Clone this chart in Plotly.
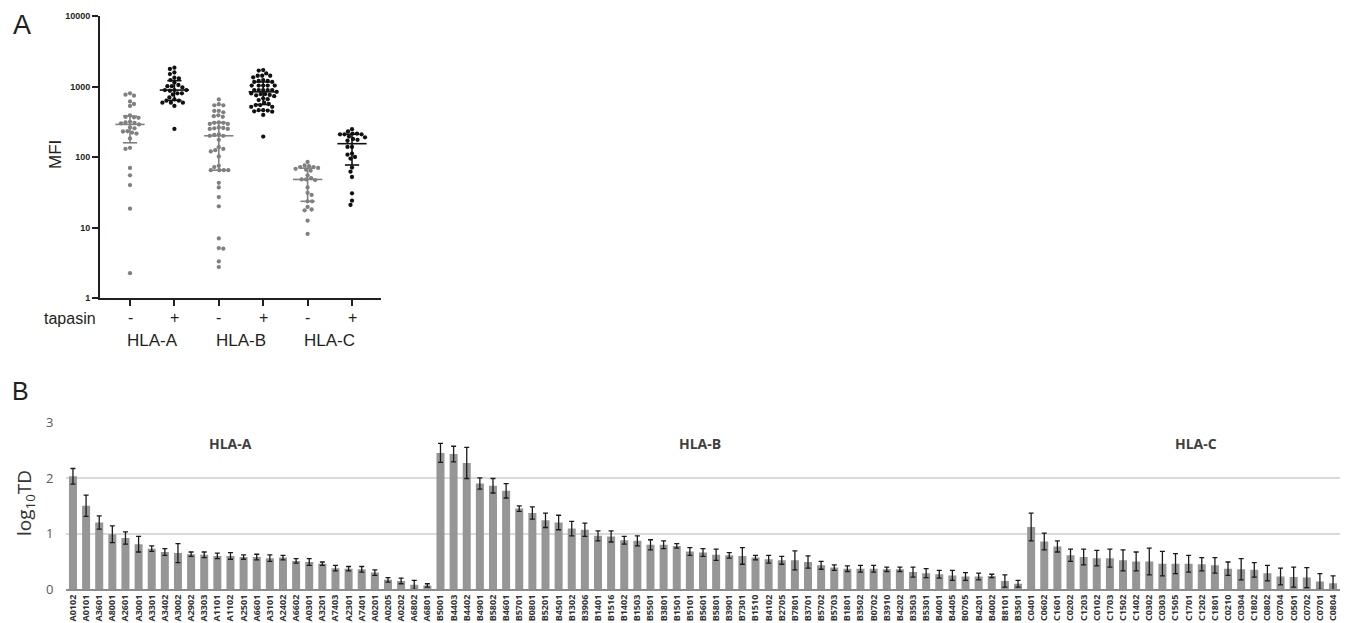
import numpy as np
import plotly.graph_objects as go

W, H = 1349, 623

# ---------------- Panel A data (MFI) ----------------
group_labels = ["HLA-A", "HLA-B", "HLA-C"]
tapasin_labels = ["-", "+", "-", "+", "-", "+"]

hla_a_minus = [800, 765, 740, 615, 565, 530, 390, 370, 365, 360, 315, 310, 305, 300, 290,
               262, 255, 232, 230, 222, 215, 183, 135, 130, 70, 55, 40, 18.5, 2.25]
hla_a_plus = [1850, 1770, 1580, 1500, 1330, 1300, 1233, 1140, 1050, 1010, 1010, 970, 890, 890,
              890, 870, 800, 800, 770, 700, 655, 630, 630, 590, 590, 590, 530, 250]
hla_b_minus = [656, 560, 540, 540, 450, 450, 430, 390, 380, 372, 310, 305, 305, 295, 295, 262,
               258, 255, 250, 250, 210, 205, 200, 200, 175, 138, 130, 125, 120, 102, 75, 72,
               65, 65, 65, 65, 43, 37, 27, 20, 7, 5.1, 5.0, 3.3, 2.75]
hla_b_plus = [1710, 1680, 1534, 1420, 1420, 1420, 1350, 1233, 1200, 1200, 1160, 1160, 1030, 1030,
              1030, 1030, 1030, 890, 890, 890, 890, 890, 840, 797, 780, 780, 760, 750, 730, 680,
              660, 641, 590, 565, 545, 545, 515, 515, 462, 462, 455, 445, 440, 395, 195]
hla_c_minus = [85, 76, 74, 72, 72, 70, 68, 66, 64, 55, 50, 48, 48, 47, 37, 31, 29, 23.5, 23.5,
               19.6, 18, 17.5, 12.5, 8.1]
hla_c_plus = [248, 230, 215, 215, 210, 210, 210, 195, 190, 180, 175, 170, 139, 139, 112, 108, 100,
              95, 71, 62, 52, 30.5, 24, 20.9]

# ---------------- Panel B data (log10 TD) ----------------
a_alleles = ["A0102", "A0101", "A3601", "A8001", "A2601", "A3001", "A3301", "A3402", "A3002",
             "A2902", "A3303", "A1101", "A1102", "A2501", "A6601", "A3101", "A2402", "A6602",
             "A0301", "A3201", "A7403", "A2301", "A7401", "A0201", "A0205", "A0202", "A6802", "A6801"]
a_td = [2.03, 1.50, 1.20, 0.99, 0.92, 0.81, 0.73, 0.67, 0.65, 0.63, 0.62, 0.60, 0.60, 0.58, 0.58,
        0.56, 0.57, 0.51, 0.49, 0.46, 0.38, 0.37, 0.36, 0.30, 0.17, 0.15, 0.08, 0.07]
a_err = [0.14, 0.19, 0.12, 0.15, 0.11, 0.14, 0.05, 0.06, 0.17, 0.04, 0.05, 0.05, 0.06, 0.04, 0.05,
         0.06, 0.04, 0.04, 0.06, 0.03, 0.05, 0.04, 0.05, 0.05, 0.04, 0.05, 0.08, 0.03]

b_alleles = ["B5001", "B4403", "B4402", "B4901", "B5802", "B4601", "B5701", "B0801", "B5201",
             "B4501", "B1302", "B3906", "B1401", "B1516", "B1402", "B1503", "B5501", "B3801",
             "B1501", "B5101", "B5601", "B5801", "B3901", "B7301", "B1510", "B4102", "B2705",
             "B7801", "B3701", "B5702", "B5703", "B1801", "B3502", "B0702", "B3910", "B4202",
             "B3503", "B5301", "B4001", "B4405", "B0705", "B4201", "B4002", "B8101", "B3501"]
b_td = [2.45, 2.43, 2.27, 1.90, 1.86, 1.77, 1.45, 1.37, 1.24, 1.20, 1.09, 1.07, 0.96, 0.95, 0.88,
        0.87, 0.80, 0.80, 0.78, 0.68, 0.66, 0.62, 0.61, 0.60, 0.57, 0.54, 0.52, 0.52, 0.49, 0.43,
        0.39, 0.37, 0.37, 0.37, 0.36, 0.36, 0.31, 0.29, 0.27, 0.25, 0.23, 0.23, 0.24, 0.15, 0.10]
b_err = [0.17, 0.14, 0.28, 0.10, 0.13, 0.13, 0.05, 0.11, 0.13, 0.13, 0.13, 0.12, 0.09, 0.10, 0.07,
         0.09, 0.09, 0.07, 0.04, 0.07, 0.07, 0.10, 0.05, 0.15, 0.04, 0.07, 0.07, 0.17, 0.11, 0.07,
         0.05, 0.05, 0.06, 0.06, 0.04, 0.04, 0.09, 0.08, 0.07, 0.09, 0.07, 0.06, 0.03, 0.11, 0.06]

c_alleles = ["C0401", "C0602", "C1601", "C0202", "C1203", "C0102", "C1703", "C1502", "C1402",
             "C0302", "C0303", "C1505", "C1701", "C1202", "C1801", "C0210", "C0304", "C1802",
             "C0802", "C0704", "C0501", "C0702", "C0701", "C0804"]
c_td = [1.12, 0.86, 0.77, 0.61, 0.58, 0.56, 0.56, 0.52, 0.50, 0.50, 0.46, 0.46, 0.46, 0.45, 0.43,
        0.37, 0.36, 0.35, 0.29, 0.23, 0.22, 0.21, 0.14, 0.11]
c_err = [0.25, 0.15, 0.10, 0.11, 0.14, 0.14, 0.16, 0.19, 0.17, 0.24, 0.22, 0.18, 0.15, 0.12, 0.14,
         0.12, 0.19, 0.13, 0.14, 0.15, 0.18, 0.18, 0.14, 0.13]

# ---------------- geometry helpers ----------------
def px(x):
    return x / W

def py(y):
    return 1 - y / H

A_X0, A_X1, A_Y0, A_Y1 = 100, 381, 16, 298     # panel A plot box in pixels
A_CAT0, A_STEP = 130, 44.4                      # first category px, spacing
A_RANGE = [(A_X0 - A_CAT0) / A_STEP, (A_X1 - A_CAT0) / A_STEP]
PX_PER_DEC = (A_Y1 - A_Y0) / 4.0


def prism_quartiles(vals):
    s = np.sort(np.asarray(vals, float))
    n = len(s)

    def q(p):
        pos = (n + 1) * p - 1
        lo = int(np.floor(pos))
        hi = min(lo + 1, n - 1)
        fr = pos - lo
        return s[lo] + (s[hi] - s[lo]) * fr
    return q(0.25), q(0.5), q(0.75)


def beeswarm(vals, center, D=4.4):
    logs = np.log10(np.asarray(vals, float)) * PX_PER_DEC
    order = np.argsort(-logs)
    placed = []
    offs = np.zeros(len(vals))
    for cnt, i in enumerate(order):
        y = logs[i]
        found = None
        for k in range(0, 400):
            signs = [0] if k == 0 else ([1, -1] if cnt % 2 == 0 else [-1, 1])
            for sg in signs:
                o = sg * k * 0.5
                if all((o - ox) ** 2 + (y - oy) ** 2 >= D * D for ox, oy in placed):
                    found = o
                    break
            if found is not None:
                break
        placed.append((found, y))
        offs[i] = found
    return center + offs / A_STEP


fig = go.Figure()

groups_data = [hla_a_minus, hla_a_plus, hla_b_minus, hla_b_plus, hla_c_minus, hla_c_plus]
for gi, vals in enumerate(groups_data):
    col = "#808080" if gi % 2 == 0 else "#111111"
    xs = beeswarm(vals, gi)
    fig.add_trace(go.Scatter(x=xs, y=vals, mode="markers", xaxis="x", yaxis="y",
                             marker=dict(size=4.3, color=col, line=dict(width=0)),
                             hoverinfo="y", showlegend=False))
    q1, med, q3 = prism_quartiles(vals)
    mw, cw = 0.33, 0.16
    lx = [gi - mw, gi + mw, None, gi, gi, None, gi - cw, gi + cw, None, gi - cw, gi + cw]
    ly = [med, med, None, q1, q3, None, q1, q1, None, q3, q3]
    fig.add_trace(go.Scatter(x=lx, y=ly, mode="lines", xaxis="x", yaxis="y",
                             line=dict(color=col, width=1.6), hoverinfo="skip",
                             showlegend=False))

# Panel B bars
all_alleles = a_alleles + b_alleles + c_alleles
all_td = a_td + b_td + c_td
all_err = a_err + b_err + c_err
fig.add_trace(go.Bar(x=all_alleles, y=all_td, xaxis="x2", yaxis="y2",
                     marker=dict(color="#969696", line=dict(width=0)),
                     error_y=dict(type="data", array=all_err, color="#1a1a1a",
                                  thickness=1.3, width=2.5),
                     showlegend=False))

B_X0, B_X1, B_Y0, B_Y3 = 66.4, 1339.6, 589.3, 422.3

fig.update_layout(
    width=W, height=H, margin=dict(l=0, r=0, t=0, b=0, autoexpand=False),
    paper_bgcolor="white", plot_bgcolor="white", bargap=0.39,
    font=dict(family="Liberation Sans, Arial", color="#231f20"),
    xaxis=dict(domain=[px(A_X0), px(A_X1)], range=A_RANGE, anchor="y", automargin=False,
               showline=True, linecolor="#231f20", linewidth=2,
               ticks="outside", ticklen=6, tickwidth=1.5, tickcolor="#231f20",
               tickvals=list(range(6)), showticklabels=False,
               showgrid=False, zeroline=False, fixedrange=True),
    yaxis=dict(domain=[py(A_Y1), py(A_Y0)], type="log", range=[0, 4], anchor="x",
               automargin=False,
               showline=True, linecolor="#231f20", linewidth=2,
               ticks="outside", ticklen=6, tickwidth=1.5, tickcolor="#231f20",
               tickvals=[1, 10, 100, 1000, 10000],
               ticktext=["1", "10", "100", "1000", "10000"],
               tickfont=dict(size=9, weight="bold", color="#231f20"),
               showgrid=False, zeroline=False),
    xaxis2=dict(domain=[px(B_X0), px(B_X1)], anchor="y2", type="category", automargin=False,
                range=[-0.5, len(all_alleles) - 0.5],
                tickmode="array", tickvals=all_alleles, ticktext=all_alleles,
                tickangle=-90, tickfont=dict(family="Open Sans", size=9, weight="bold",
                                             color="#333333"),
                showline=True, linecolor="#8c8c8c", linewidth=1.6,
                ticks="", showgrid=False, zeroline=False),
    yaxis2=dict(domain=[py(B_Y0), py(B_Y3)], anchor="x2", range=[0, 3], automargin=False,
                tickvals=[0, 1, 2, 3], tickfont=dict(family="Open Sans", size=13,
                                                     color="#595959"),
                ticklabelstandoff=12,
                showgrid=True, gridcolor="#d9d9d9", gridwidth=1.5,
                zeroline=False, showline=False),
)

ann = []
def add_text(text, x, y, size, xanchor="center", angle=0, bold=False, color="#231f20",
             family="Liberation Sans, Arial"):
    ann.append(dict(text=text, x=px(x), y=py(y), xref="paper", yref="paper",
                    xanchor=xanchor, yanchor="middle", showarrow=False, textangle=angle,
                    font=dict(size=size, color=color, family=family,
                              weight="bold" if bold else "normal")))

add_text("A", 22, 25, 27)
add_text("B", 20, 391, 25)
add_text("MFI", 55, 155, 17, angle=-90)
add_text("tapasin", 98, 318, 16, xanchor="right")
for i, t in enumerate(tapasin_labels):
    add_text(t, A_CAT0 + i * A_STEP, 317, 16)
for i, g in enumerate(group_labels):
    add_text(g, A_CAT0 + A_STEP * (2 * i + 0.5), 340, 17)

add_text("log<sub>10</sub>TD", 25, 503, 19, angle=-90, family="Open Sans", color="#333333")
panel_b_groups = [(a_alleles, 230.5), (b_alleles, 700), (c_alleles, 1196)]
for g, (lst, xc) in zip(group_labels, panel_b_groups):
    add_text(g, xc, 443, 14, bold=True, family="Open Sans", color="#404040")

fig.update_layout(annotations=ann)
fig.write_html("out.html")
